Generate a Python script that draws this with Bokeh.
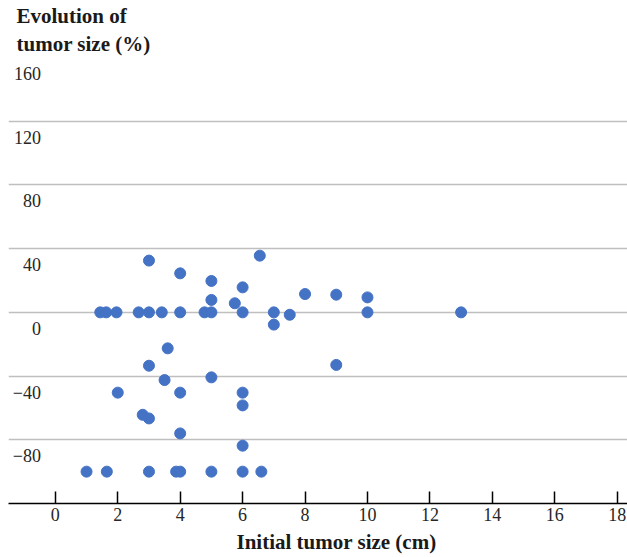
from bokeh.plotting import figure
from bokeh.models import FixedTicker, Range1d, Title
from bokeh.core.properties import value
from bokeh.embed import file_html
from bokeh.resources import INLINE

# ---- data ----
initial_size = [1.0, 1.65, 3.0, 3.87, 4.0, 5.0, 6.0, 6.6,
                3.0, 4.0, 5.0, 6.0, 6.55, 8.0, 5.0, 5.75,
                1.44, 1.63, 1.96, 2.67, 3.0, 3.41, 4.0, 4.78, 5.0, 6.0, 7.0, 7.51,
                7.0, 3.6, 3.0, 3.5, 5.0, 2.0, 4.0, 6.0, 6.0, 2.8, 3.0, 4.0, 6.0,
                9.0, 10.0, 10.0, 13.0, 9.0]
evolution = [-100, -100, -100, -100, -100, -100, -100, -100,
             32.5, 24.5, 19.7, 15.7, 35.6, 11.5, 7.8, 5.7,
             0, 0, 0, 0, 0, 0, 0, 0, 0, 0, 0, -1.5,
             -7.7, -22.6, -33.5, -42.5, -40.8, -50.4, -50.4, -50.4, -58.4, -64.3, -66.6, -76, -83.7,
             11.1, 9.4, 0, 0, -33]
x_ticks = [0, 2, 4, 6, 8, 10, 12, 14, 16, 18]
y_ticks = [-80, -40, 0, 40, 80, 120, 160]
y_tick_labels = ["\u221280", "\u221240", "0", "40", "80", "120", "160"]
y_title_lines = ["Evolution of", "tumor size (%)"]
x_title = "Initial tumor size (cm)"

SERIF = "Liberation Serif"

p = figure(width=627, height=557, output_backend="svg", toolbar_location=None,
           x_range=Range1d(-1.5, 18.33), y_range=Range1d(-120, 160),
           min_border_left=8, min_border_right=0, min_border_top=57,
           min_border_bottom=54)
p.outline_line_color = None
p.background_fill_color = "white"
p.border_fill_color = "white"

p.xgrid.visible = False
p.yaxis.visible = False
p.ygrid.ticker = FixedTicker(ticks=y_ticks)
p.ygrid.grid_line_color = "#bfbfbf"
p.ygrid.grid_line_width = 1.5

ax = p.xaxis[0]
ax.ticker = FixedTicker(ticks=x_ticks)
ax.axis_line_color = "black"
ax.axis_line_width = 1.5
ax.major_tick_line_color = "black"
ax.major_tick_line_width = 1.5
ax.major_tick_in = 12
ax.major_tick_out = 0
ax.minor_tick_line_color = None
ax.major_label_text_font = SERIF
ax.major_label_text_font_size = "18px"
ax.major_label_text_color = "#262626"
ax.major_label_standoff = 4

# y tick labels, drawn just below each gridline
p.text(x=[-0.46] * len(y_ticks), y=y_ticks, text=y_tick_labels,
       text_font=value(SERIF), text_font_size="18px", text_color="#262626",
       text_align="right", text_baseline="middle", y_offset=16)

# points
p.scatter(initial_size, evolution, size=11, color="#4472C4", line_color="#4472C4")

# y title (two lines above the plot; first added sits nearest the frame)
p.add_layout(Title(text=y_title_lines[1], align="left", offset=8, standoff=4,
                   text_font=SERIF, text_font_style="bold", text_font_size="21px",
                   text_color="#1a1a1a"), "above")
p.add_layout(Title(text=y_title_lines[0], align="left", offset=8, standoff=0,
                   text_font=SERIF, text_font_style="bold", text_font_size="21px",
                   text_color="#1a1a1a"), "above")

# x title
p.add_layout(Title(text=x_title, align="left", offset=228, standoff=8,
                   text_font=SERIF, text_font_style="bold", text_font_size="21px",
                   text_color="#1a1a1a"), "below")

open("out.html", "w").write(file_html(p, INLINE))
